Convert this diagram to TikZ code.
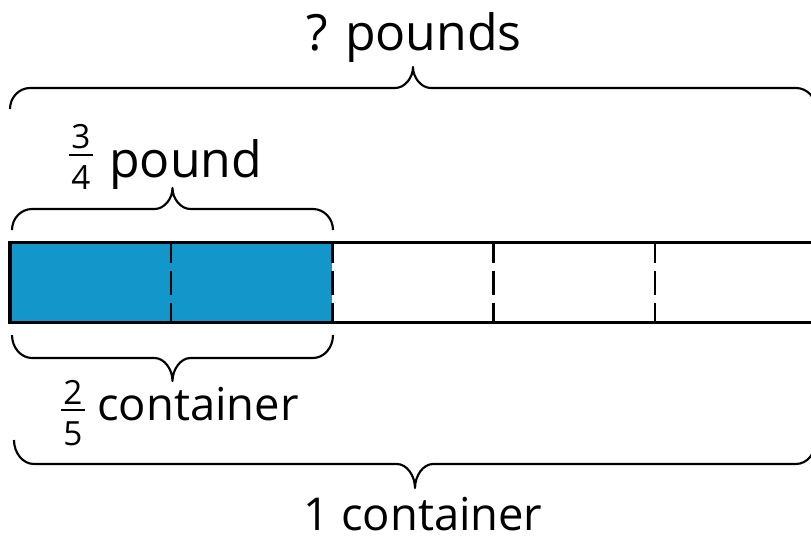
\documentclass[tikz,border=0pt]{standalone}
\usepackage{amsmath}
\usepackage{fontspec}
\setmainfont{Open Sans}
\usepackage{tikz}
\usetikzlibrary{calc}
\definecolor{tapeblue}{RGB}{19,150,202}
\tikzset{brace line/.style={draw,
                            line width=1.6pt,
                            line join=round}}
\tikzset{tape border/.style={draw,line width=2.6pt}}
\tikzset{tape divider/.style={draw,
                              line width=1.8pt,
                              dash pattern=on 15pt off 6pt on 18pt off 6pt}}
% stacked fraction, numerator sitting close on the bar
\newcommand{\tapefrac}[2]{$\genfrac{}{}{1.5pt}{0}%
  {\raisebox{-6pt}[\height][0pt]{\kern1.5pt#1\kern1.5pt}}%
  {\raisebox{-3pt}{\kern1.5pt#2\kern1.5pt}}$}
% curly brace from x=#1 to x=#2, ends at y=#3, #4 = signed half height
\newcommand{\tapebrace}[4]{%
  \path [brace line]
    (#1,#3) .. controls (#1,{#3+0.55*(#4)}) and ({#1+9},{#3+(#4)}) .. ({#1+20},{#3+(#4)})
    -- ({(#1+#2)/2-18},{#3+(#4)})
    .. controls ({(#1+#2)/2-8},{#3+(#4)}) and ({(#1+#2)/2},{#3+1.5*(#4)}) .. ({(#1+#2)/2},{#3+2*(#4)})
    .. controls ({(#1+#2)/2},{#3+1.5*(#4)}) and ({(#1+#2)/2+8},{#3+(#4)}) .. ({(#1+#2)/2+18},{#3+(#4)})
    -- ({#2-20},{#3+(#4)})
    .. controls ({#2-9},{#3+(#4)}) and (#2,{#3+0.55*(#4)}) .. (#2,#3);}

\begin{document}
\begin{tikzpicture}
    [
      x=0.75pt,y=-0.75pt,
      top label/.style={font=\fontsize{37.5}{45}\selectfont,inner sep=0pt},
      bottom label/.style={font=\fontsize{34}{40}\selectfont,inner sep=0pt},
      frac label/.style={font=\fontsize{25}{30}\selectfont,inner sep=0pt},
    ]
    \useasboundingbox (0,0) rectangle (811,543);
    \clip (0,0) rectangle (811,543);

    % tape
    \coordinate (tape nw) at (10,242.5);
    \coordinate (tape se) at (816,322.5);
    \fill [tapeblue] (tape nw) rectangle (332.4,322.5);
    \foreach \i [evaluate=\i as \x using 10+\i*161.2] in {1,...,4}
    {
      \path [tape divider] (\x,242.5) -- (\x,322.5);
    }
    \path [tape border] (tape nw) rectangle (tape se);

    % braces
    \tapebrace{10}{816}{109}{-21}
    \tapebrace{12}{333}{230}{-21}
    \tapebrace{12}{333}{335}{23}
    \tapebrace{14}{816}{440}{24}

    % labels
    \node [top label,anchor=base] (total) at (414,50) {? pounds};
    \node [frac label] (part frac) at (81,153) {\tapefrac{3}{4}};
    \node [top label,anchor=base west] (part) at (109,177) {pound};
    \node [frac label] (share frac) at (73,409) {\tapefrac{2}{5}};
    \node [bottom label,anchor=base west] (share) at (97,420) {container};
    \node [bottom label,anchor=base] (whole) at (423,530) {1 container};

  \end{tikzpicture}
\end{document}
